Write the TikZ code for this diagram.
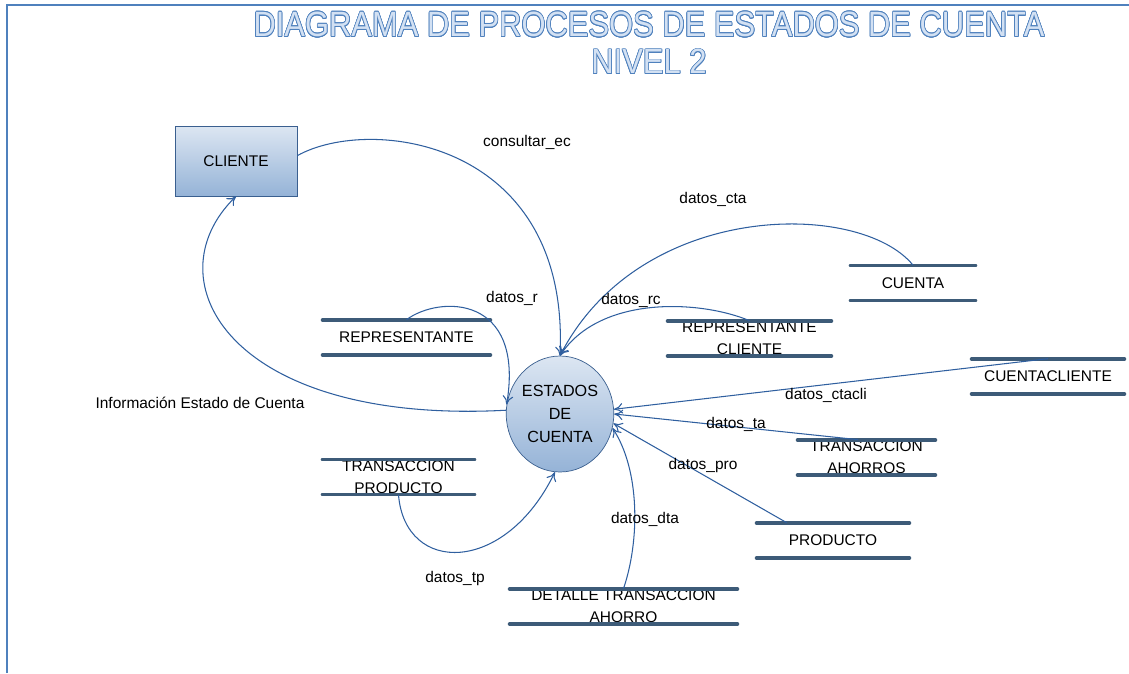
\documentclass[tikz,border=0pt]{standalone}
\usepackage{fontspec}
\setmainfont{Liberation Sans}
\usepackage{graphicx}
\usepackage{contour}
\usetikzlibrary{arrows.meta,
	shapes.geometric}

\definecolor{framecol}{HTML}{4F81BD}
\definecolor{flowcol}{HTML}{2F5F9F}
\definecolor{storecol}{HTML}{3D5B78}
\definecolor{boxtop}{HTML}{DCE6F2}
\definecolor{boxbot}{HTML}{95B3D7}
\definecolor{boxline}{HTML}{3A5F8F}
\definecolor{titlefill}{HTML}{D3E1F3}
\definecolor{titleline}{HTML}{4F81BD}
\contourlength{0.45pt}

\begin{document}
\begin{tikzpicture}[x=0.02cm,y=-0.02cm,font=\fontsize{8.8}{12.5}\selectfont]
        \tikzstyle{storeline}=[draw=storecol,line width=2.2pt,line cap=round]
        \tikzstyle{store}=[inner sep=0pt,minimum height=0.7cm,align=center,
          append after command={([yshift=0.35cm]\tikzlastnode.west) edge[storeline] ([yshift=0.35cm]\tikzlastnode.east)
            ([yshift=-0.35cm]\tikzlastnode.west) edge[storeline] ([yshift=-0.35cm]\tikzlastnode.east)}]
        \tikzstyle{entity}=[draw=boxline,top color=boxtop,bottom color=boxbot,minimum width=2.44cm,minimum height=1.4cm]
        \tikzstyle{process}=[ellipse,draw=boxline,top color=boxtop,bottom color=boxbot,minimum width=1.96cm,minimum height=2.32cm,inner sep=0pt,align=center,font=\fontsize{9.2}{13.3}\selectfont]
        \tikzstyle{flow}=[draw=flowcol,line width=0.6pt,-{To[length=5pt,width=6pt]}]
        \useasboundingbox (0,0) rectangle (1129,673);
        \draw[framecol,line width=1.1pt] (7,673) -- (7,5) -- (1129,5);
        % title
        \node (title1) at (649,25) {\scalebox{0.88}[1]{\fontsize{20}{24}\selectfont\color{titlefill}\contour{titleline}{DIAGRAMA DE PROCESOS DE ESTADOS DE CUENTA}}};
        \node (title2) at (649,62) {\scalebox{0.88}[1]{\fontsize{20}{24}\selectfont\color{titlefill}\contour{titleline}{NIVEL 2}}};
        % entity, process, stores
        \node[entity] (cli) at (236,161) {CLIENTE};
        \node[process] (est) at (560,414) {ESTADOS\\DE\\CUENTA};
        \node[store,minimum width=3.34cm] (rep) at (406.5,337.5) {REPRESENTANTE};
        \node[store,minimum width=2.48cm] (cta) at (913,283) {CUENTA};
        \node[store,minimum width=3.26cm] (rc) at (749.5,338.5) {REPRESENTANTE\\CLIENTE};
        \node[store,minimum width=3.04cm] (ccli) at (1048,376.5) {CUENTACLIENTE};
        \node[store,minimum width=2.74cm] (ta) at (866.5,457.5) {TRANSACCION\\AHORROS};
        \node[store,minimum width=3.04cm] (pro) at (833,540.5) {PRODUCTO};
        \node[store,minimum width=3.02cm] (tp) at (398.5,477) {TRANSACCION\\PRODUCTO};
        \node[store,minimum width=4.54cm] (dta) at (623.5,606.5) {DETALLE TRANSACCION\\AHORRO};
        % flows
        \draw[flow] (cli.5) .. controls (370,115) and (570,140) .. (est.north);
        \draw[flow] (est.176) .. controls (230,425) and (150,280) .. (cli.south);
        \draw[flow] (rep.north) .. controls (440,295) and (525,295) .. (est.170);
        \draw[flow] (rc.north) .. controls (700,300) and (600,295) .. (est.north);
        \draw[flow] (cta.north) .. controls (860,200) and (640,200) .. (est.north);
        \draw[flow] (ccli.north) -- (est.5);
        \draw[flow] ([xshift=-0.17cm]ta.north) -- (est.east);
        \draw[flow] ([xshift=0.6cm]pro.north west) -- (est.-10);
        \draw[flow] (dta.north) .. controls (640,540) and (640,470) .. (est.-15);
        \draw[flow] (tp.south) .. controls (405,575) and (505,575) .. (est.-95);
        % labels
        \node (l_ec) at (527,142) {consultar\_ec};
        \node (l_info) at (200,403) {Información Estado de Cuenta};
        \node (l_r) at (512,298) {datos\_r};
        \node (l_rc) at (631,300) {datos\_rc};
        \node (l_cta) at (713,199) {datos\_cta};
        \node (l_ctacli) at (826,395) {datos\_ctacli};
        \node (l_ta) at (736,424) {datos\_ta};
        \node (l_pro) at (703,465) {datos\_pro};
        \node (l_dta) at (645,519) {datos\_dta};
        \node (l_tp) at (455,578) {datos\_tp};
\end{tikzpicture}
\end{document}
